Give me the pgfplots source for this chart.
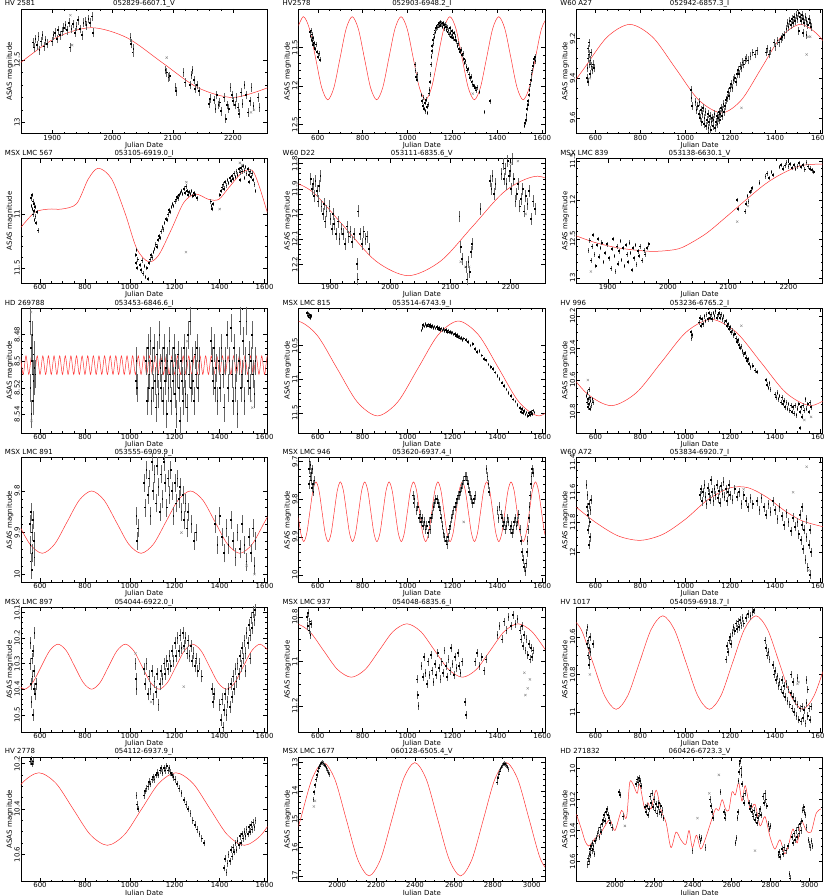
\documentclass[border=0pt]{standalone}
\usepackage{fontspec}
\setmainfont{DejaVu Sans}
\usepackage{pgfplots}
\pgfplotsset{compat=1.18}
\usepgfplotslibrary{groupplots}

% data point with its error bar, drawn as one light mark
\newdimen\ebl
\tikzset{ebl/.code={\pgfmathsetlength{\ebl}{#1}}}
\pgfdeclareplotmark{eb}{%
  \pgfpathmoveto{\pgfqpoint{0pt}{-\ebl}}\pgfpathlineto{\pgfqpoint{0pt}{\ebl}}\pgfusepathqstroke
  \pgfpathrectangle{\pgfqpoint{-0.85pt}{-0.85pt}}{\pgfqpoint{1.7pt}{1.7pt}}\pgfusepathqfill}

\pgfplotsset{
  lc/.style={only marks, mark=eb, mark options={draw=black!60, fill=black, line width=0.45pt, ebl=#1}},
  model/.style={no marks, smooth, red!80, line width=0.5pt},
  outl/.style={only marks, mark=x, mark size=1.6pt, black!45, line width=0.4pt},
  ja/.style={xmin=515, xmax=1612, xtick={600,800,...,1600}, minor x tick num=3},
  jb/.style={xmin=1848, xmax=2257, xtick={1900,2000,2100,2200}, minor x tick num=4},
  jc/.style={xmin=1802, xmax=3068, xtick={2000,2200,...,3000}, minor x tick num=3},
  % star name at the upper left, ASAS id centred above the frame
  pt/.style 2 args={title={\makebox[0pt]{\makebox[247pt][l]{\hspace*{-16pt}#1}}\makebox[0pt]{#2}}},
}

\begin{document}
\begin{tikzpicture}[font=\fontsize{7}{8}\selectfont]
\begin{groupplot}[
  group style={group size=3 by 6, horizontal sep=31.5pt, vertical sep=25pt},
  width=247pt, height=125pt, scale only axis,
  y dir=reverse,
  xlabel={Julian Date}, ylabel={ASAS magnitude},
  every axis title shift=0pt,
  title style={inner sep=0pt, yshift=1.2pt},
  tick align=inside, major tick length=4pt, minor tick length=2pt,
  tick style={black, line width=0.4pt},
  axis line style={line width=0.5pt},
  yticklabel style={rotate=90, anchor=south, inner sep=1pt},
  xticklabel style={inner sep=1pt},
  /pgf/number format/1000 sep={},
  /pgf/number format/assume math mode=true,
  scaled y ticks=false, scaled x ticks=false,
  xlabel style={inner sep=0.5pt},
  ylabel style={inner sep=0pt},
]

% ---------- row 1 ----------
\nextgroupplot[jb, ymin=12.09, ymax=13.09, ytick={12.5,13}, minor y tick num=4, pt={HV 2581}{052829-6607.1\_V}]
\addplot[model] coordinates {(1847.5,12.52) (1906.25,12.32) (1965,12.24) (2023.75,12.32) (2082.5,12.52) (2141.25,12.72) (2200,12.80) (2258.75,12.72)};
\addplot[lc=4.4pt] coordinates {
(1868,12.36) (1870,12.40) (1872,12.33) (1875,12.38) (1877,12.31) (1879,12.42) (1881,12.35) (1884,12.30) (1886,12.39) (1889,12.34) (1891,12.37)
(1900,12.35) (1902,12.30) (1905,12.28) (1908,12.33) (1910,12.26) (1913,12.30) (1916,12.27) (1919,12.24) (1922,12.22) (1925,12.26) (1928,12.20) (1930,12.40) (1932,12.25) (1935,12.21) (1938,12.28) (1940,12.23) (1943,12.18) (1946,12.25) (1949,12.30) (1952,12.20) (1955,12.19) (1957,12.22) (1960,12.17) (1963,12.20) (1966,12.15) (1968,12.28)
(2030,12.32) (2031,12.37) (2034,12.44) (2035,12.41)
(2088,12.58) (2090,12.60) (2093,12.64) (2095,12.63)
(2105,12.72) (2106,12.75) (2118,12.60) (2120,12.68) (2129,12.70) (2131,12.62) (2133,12.58) (2135,12.66) (2137,12.73) (2140,12.70) (2144,12.75)
(2160,12.85) (2162,12.81) (2169,12.82) (2171,12.89) (2173,12.78) (2176,12.86) (2178,12.84) (2180,12.91) (2185,12.80) (2188,12.97) (2190,12.86) (2193,12.89) (2196,12.72) (2198,12.78) (2200,12.83) (2203,12.86) (2206,12.80) (2208,12.88) (2210,12.93) (2213,12.76) (2216,12.85) (2219,12.70) (2222,12.78) (2225,12.92) (2228,12.83) (2231,12.72) (2234,12.87) (2242,12.80) (2244,12.88)};
\addplot[outl] coordinates {(1930,12.14) (1933,12.38) (2090,12.48) (2230,12.92) (2235,12.90)};

\nextgroupplot[ja, ymin=11.0, ymax=12.62, ytick={11.5,12,12.5}, minor y tick num=4, pt={HV2578}{052903-6948.2\_I}]
\addplot[model] coordinates {(508.8,11.258) (536,11.10) (563.2,11.258) (590.4,11.64) (617.6,12.022) (644.8,12.18) (671.9,12.022) (699.1,11.64) (726.3,11.258) (753.5,11.10) (780.7,11.258) (807.9,11.64) (835.1,12.022) (862.3,12.18) (889.4,12.022) (916.6,11.64) (943.8,11.258) (971,11.10) (998.2,11.258) (1025.4,11.64) (1052.6,12.022) (1079.8,12.18) (1106.9,12.022) (1134.1,11.64) (1161.3,11.258) (1188.5,11.10) (1215.7,11.258) (1242.9,11.64) (1270.1,12.022) (1297.3,12.18) (1324.4,12.022) (1351.6,11.64) (1378.8,11.258) (1406,11.10) (1433.2,11.258) (1460.4,11.64) (1487.6,12.022) (1514.8,12.18) (1541.9,12.022) (1569.1,11.64) (1596.3,11.258) (1623.5,11.10)};
\addplot[lc=2.3pt] coordinates {
(566,11.30) (568,11.35) (570,11.28) (572,11.40) (574,11.33) (576,11.42) (578,11.38) (580,11.47) (583,11.44) (586,11.50) (589,11.52) (592,11.46) (596,11.56) (600,11.62) (605,11.58) (610,11.66)
(1032,11.72) (1035,11.80) (1038,11.88) (1041,11.92) (1044,11.85)
(1062,12.12) (1065,12.20) (1068,12.26) (1071,12.15) (1074,12.30) (1077,12.22) (1080,12.33) (1083,12.18) (1086,12.27) (1089,12.35) (1092,12.24) (1095,12.10) (1098,12.05)
(1100,11.95) (1102,11.85) (1104,11.72) (1106,11.62) (1108,11.55) (1110,11.48) (1113,11.40) (1115,11.45) (1118,11.33) (1120,11.36) (1122,11.28) (1125,11.30) (1128,11.25)
(1131,11.22) (1134,11.24) (1137,11.20) (1140,11.18) (1143,11.22) (1146,11.17) (1149,11.20) (1152,11.19) (1155,11.23) (1158,11.18) (1161,11.21) (1164,11.25) (1167,11.20) (1170,11.23) (1173,11.27) (1176,11.24) (1179,11.30) (1182,11.28) (1185,11.33) (1188,11.25) (1191,11.31) (1194,11.36) (1197,11.29) (1200,11.34) (1203,11.38) (1206,11.31) (1210,11.40) (1214,11.36)
(1218,11.42) (1222,11.48) (1226,11.45) (1230,11.52) (1234,11.56) (1238,11.53) (1242,11.60) (1246,11.58) (1250,11.65) (1254,11.70) (1258,11.68) (1262,11.75) (1266,11.80) (1270,11.78) (1274,11.85) (1278,11.90) (1282,11.88) (1286,11.95) (1290,11.98) (1295,12.00) (1300,12.03) (1305,12.06) (1310,12.02) (1320,12.08) (1343,12.34) (1366,12.20)
(1521,12.52) (1524,12.48) (1527,12.44) (1530,12.38) (1532,12.30) (1535,12.25) (1537,12.20) (1540,12.12) (1543,12.05) (1546,11.98) (1549,11.92) (1552,11.85) (1555,11.80) (1558,11.74) (1561,11.70) (1564,11.65) (1567,11.62) (1570,11.68)};
\addplot[outl] coordinates {(1290,12.10)};

\nextgroupplot[ja, ymin=9.05, ymax=9.68, ytick={9.2,9.4,9.6}, minor y tick num=3, pt={W60 A27}{052942-6857.3\_I}]
\addplot[model] coordinates {(446,9.51) (548.5,9.3515) (650.75,9.193) (753,9.128) (855.25,9.193) (957.5,9.3515) (1059.75,9.51) (1162,9.575) (1249.75,9.51) (1337.5,9.3515) (1425.25,9.193) (1513,9.128) (1600.75,9.193) (1688.5,9.3515)};
\addplot[lc=4pt] coordinates {
(562,9.40) (564,9.35) (566,9.30) (568,9.25) (570,9.22) (572,9.28) (574,9.33) (576,9.38) (578,9.31) (580,9.27) (583,9.34) (586,9.36) (590,9.33) (594,9.35) (566,9.42)
(1025,9.46) (1027,9.50) (1029,9.54)
(1045,9.52) (1050,9.56) (1055,9.54) (1060,9.58) (1063,9.52) (1066,9.60) (1070,9.56) (1073,9.62) (1076,9.58) (1080,9.55) (1083,9.63) (1086,9.60) (1090,9.57) (1093,9.64) (1096,9.61) (1100,9.58) (1103,9.65) (1106,9.62) (1110,9.59) (1113,9.66) (1116,9.62) (1120,9.60) (1123,9.64) (1126,9.61) (1130,9.58) (1133,9.65) (1136,9.62) (1140,9.59) (1143,9.63) (1146,9.60) (1150,9.57) (1153,9.61) (1156,9.58) (1160,9.55) (1163,9.59) (1166,9.56) (1170,9.53) (1173,9.57) (1176,9.54) (1180,9.51)
(1185,9.50) (1190,9.47) (1195,9.49) (1200,9.45) (1205,9.43) (1210,9.45) (1215,9.41) (1220,9.40) (1225,9.42) (1230,9.38) (1235,9.36) (1240,9.38) (1245,9.34) (1250,9.35) (1255,9.32) (1260,9.33) (1265,9.31) (1270,9.30) (1280,9.31) (1290,9.29) (1300,9.27) (1310,9.28) (1320,9.26)
(1360,9.27) (1365,9.25) (1372,9.28) (1380,9.26)
(1395,9.22) (1402,9.24) (1410,9.21) (1418,9.22) (1425,9.20) (1432,9.19) (1440,9.18)
(1450,9.15) (1455,9.12) (1460,9.14) (1465,9.11) (1470,9.13) (1475,9.10) (1480,9.12) (1485,9.09) (1490,9.11) (1495,9.08) (1500,9.10) (1505,9.07) (1510,9.09) (1515,9.11) (1520,9.08) (1525,9.10) (1530,9.12) (1535,9.09) (1540,9.11) (1545,9.13) (1550,9.10) (1555,9.12) (1560,9.14) (1505,9.16) (1525,9.17) (1540,9.18)};
\addplot[outl] coordinates {(1250,9.55) (1540,9.28) (1547,9.19) (1556,9.19) (575,9.40)};

% ---------- row 2 ----------
\nextgroupplot[ja, ymin=10.48, ymax=11.64, ytick={11,11.5}, minor y tick num=4, pt={MSX LMC 567}{053105-6919.0\_I}]
\addplot[model] coordinates {(515,11.12) (577,10.98) (640,10.95) (696,10.95) (763,10.90) (815,10.67) (860,10.57) (919,10.67) (979,10.99) (1031,11.32) (1083,11.44) (1128,11.38) (1187,11.13) (1240,10.89) (1292,10.81) (1351,10.86) (1396,10.86) (1441,10.75) (1500,10.61) (1545,10.59) (1575,10.73) (1612,10.98)};
\addplot[lc=2.2pt] coordinates {
(560,10.85) (562,10.92) (564,10.82) (566,10.95) (568,10.88) (570,11.00) (572,10.90) (574,10.97) (576,11.05) (578,10.93) (580,11.02) (583,11.08) (586,10.98) (590,11.15)
(1026,11.38) (1028,11.45) (1030,11.33) (1032,11.50) (1035,11.42)
(1045,11.47) (1050,11.52) (1055,11.43) (1060,11.55) (1065,11.48) (1070,11.58) (1075,11.50) (1080,11.60) (1085,11.45) (1090,11.42) (1095,11.38) (1100,11.40)
(1105,11.35) (1110,11.32) (1115,11.28) (1120,11.30) (1125,11.24) (1130,11.20) (1135,11.22) (1140,11.16) (1145,11.12) (1150,11.14) (1155,11.08) (1160,11.04) (1165,11.05) (1170,11.00) (1175,10.96) (1180,10.98) (1185,10.93) (1190,10.90) (1195,10.92) (1200,10.88) (1205,10.86) (1210,10.84) (1215,10.85) (1220,10.82) (1225,10.80) (1230,10.78) (1235,10.81) (1240,10.76)
(1245,10.80) (1250,10.74) (1255,10.78) (1260,10.82) (1265,10.79) (1270,10.81) (1275,10.78) (1280,10.83) (1285,10.80) (1290,10.82) (1300,10.85)
(1360,10.88) (1363,10.92) (1366,10.95) (1370,10.90)
(1400,10.82) (1405,10.78) (1410,10.75) (1415,10.72) (1420,10.76) (1425,10.70) (1430,10.73) (1435,10.68) (1440,10.71) (1445,10.66) (1450,10.69) (1455,10.64) (1460,10.67) (1465,10.62) (1470,10.65) (1475,10.60) (1480,10.63) (1485,10.58) (1490,10.61) (1495,10.57) (1500,10.60) (1505,10.55) (1510,10.59) (1515,10.56) (1520,10.62) (1525,10.58) (1530,10.63) (1535,10.60) (1540,10.65) (1545,10.62) (1550,10.68) (1555,10.72) (1560,10.78) (1490,10.68) (1510,10.66) (1530,10.70)};
\addplot[outl] coordinates {(1250,11.35) (1400,10.95) (1252,10.70) (1490,10.52) (1500,10.54)};

\nextgroupplot[jb, ymin=11.78, ymax=12.275, ytick={11.8,11.9,12,12.1,12.2}, minor y tick num=4, pt={W60 D22}{053111-6835.6\_V}]
\addplot[model] coordinates {(1815,11.85) (1868.75,11.908) (1922.5,12.0475) (1976.25,12.187) (2030,12.245) (2083.75,12.187) (2137.5,12.0475) (2191.25,11.908) (2245,11.85) (2298.75,11.908)};
\addplot[lc=6pt] coordinates {
(1868,11.86) (1870,11.90) (1872,11.88) (1874,11.93) (1876,11.87) (1878,11.91) (1880,11.95) (1882,11.89) (1884,11.85) (1886,11.97) (1888,12.00) (1890,11.96) (1892,12.03) (1894,11.99) (1899,11.97) (1901,12.02) (1903,12.06) (1905,12.00) (1907,12.04) (1910,12.08) (1913,12.03) (1916,12.10) (1919,12.06) (1922,12.08) (1925,12.12) (1928,12.05) (1931,12.09) (1934,12.07) (1937,12.11) (1940,12.08) (1945,12.20) (1946,12.26) (1947,11.99) (1950,12.08) (1953,12.12) (1956,12.07) (1959,12.10) (1962,12.09) (1965,12.14)
(2115,12.01) (2117,12.13) (2119,12.18) (2126,12.21) (2128,12.26) (2130,12.19) (2132,12.23) (2134,12.15) (2136,12.12)
(2150,11.98) (2166,11.87) (2168,11.90) (2170,11.85) (2172,11.92) (2175,11.88) (2185,11.84) (2187,11.80) (2189,11.86) (2191,11.82) (2193,11.88) (2195,11.79) (2197,11.85) (2199,11.83) (2201,11.90) (2203,11.78) (2205,11.86) (2208,11.95) (2210,11.92) (2212,11.88) (2215,11.97) (2217,11.94) (2220,11.90) (2222,11.99) (2225,11.93) (2228,11.96) (2231,11.91) (2234,12.02) (2237,11.95) (2240,11.98)};
\addplot[outl] coordinates {(2117,12.19) (2125,12.21) (2131,12.21) (2212,11.79) (2200,11.80) (2225,12.00)};

\nextgroupplot[jb, ymin=11.47, ymax=13.07, ytick={11.5,12,12.5,13}, minor y tick num=4, pt={MSX LMC 839}{053138-6630.1\_V}]
\addplot[model] coordinates {(1847,12.46) (1880,12.55) (1920,12.62) (1969,12.66) (2000,12.65) (2024,12.61) (2062,12.44) (2095,12.23) (2128,12.01) (2161,11.80) (2188,11.67) (2221,11.56) (2258,11.54)};
\addplot[lc=2.3pt] coordinates {
(1868,12.65) (1870,12.52) (1872,12.78) (1874,12.60) (1876,12.45) (1878,12.70) (1880,12.85) (1882,12.58) (1884,12.50) (1886,12.73) (1888,12.62) (1890,12.55) (1893,12.80) (1896,12.68) (1899,12.57) (1902,12.75) (1905,12.88) (1907,12.63) (1909,12.50) (1911,12.72) (1913,12.92) (1915,12.60) (1917,12.82) (1919,12.66) (1921,12.53) (1923,12.77) (1925,12.62) (1928,12.85) (1930,12.58) (1932,12.70) (1934,12.80) (1936,12.55) (1938,12.68) (1940,12.90) (1942,12.62) (1944,12.75) (1946,12.58) (1948,12.83) (1950,12.66) (1952,12.72) (1954,12.60) (1957,12.78) (1960,12.65) (1962,12.70) (1965,12.62) (1968,12.57)
(2115,12.00) (2116,12.12) (2128,12.15) (2130,12.05) (2132,11.95) (2134,12.02) (2136,11.90) (2138,11.88) (2140,11.85) (2152,11.78) (2162,11.70) (2165,11.66) (2168,11.72) (2172,11.64) (2175,11.68)
(2185,11.58) (2188,11.55) (2191,11.60) (2194,11.56) (2197,11.52) (2200,11.57) (2203,11.54) (2206,11.59) (2209,11.55) (2212,11.60) (2215,11.57) (2218,11.53) (2221,11.58) (2224,11.55) (2227,11.61) (2230,11.52) (2233,11.57) (2236,11.60) (2239,11.62) (2242,11.64)};
\addplot[outl] coordinates {(2115,12.28) (2133,12.08) (1872,12.92)};

% ---------- row 3 ----------
\nextgroupplot[ja, ymin=8.46, ymax=8.554, ytick={8.48,8.5,8.52,8.54}, minor y tick num=3, pt={HD 269788}{053453-6846.6\_I}]
\addplot[model] coordinates {(512.5,8.496) (525,8.51) (537.5,8.496) (550,8.51) (562.5,8.496) (575,8.51) (587.5,8.496) (600,8.51) (612.5,8.496) (625,8.51) (637.5,8.496) (650,8.51) (662.5,8.496) (675,8.51) (687.5,8.496) (700,8.51) (712.5,8.496) (725,8.51) (737.5,8.496) (750,8.51) (762.5,8.496) (775,8.51) (787.5,8.496) (800,8.51) (812.5,8.496) (825,8.51) (837.5,8.496) (850,8.51) (862.5,8.496) (875,8.51) (887.5,8.496) (900,8.51) (912.5,8.496) (925,8.51) (937.5,8.496) (950,8.51) (962.5,8.496) (975,8.51) (987.5,8.496) (1000,8.51) (1012.5,8.496) (1025,8.51) (1037.5,8.496) (1050,8.51) (1062.5,8.496) (1075,8.51) (1087.5,8.496) (1100,8.51) (1112.5,8.496) (1125,8.51) (1137.5,8.496) (1150,8.51) (1162.5,8.496) (1175,8.51) (1187.5,8.496) (1200,8.51) (1212.5,8.496) (1225,8.51) (1237.5,8.496) (1250,8.51) (1262.5,8.496) (1275,8.51) (1287.5,8.496) (1300,8.51) (1312.5,8.496) (1325,8.51) (1337.5,8.496) (1350,8.51) (1362.5,8.496) (1375,8.51) (1387.5,8.496) (1400,8.51) (1412.5,8.496) (1425,8.51) (1437.5,8.496) (1450,8.51) (1462.5,8.496) (1475,8.51) (1487.5,8.496) (1500,8.51) (1512.5,8.496) (1525,8.51) (1537.5,8.496) (1550,8.51) (1562.5,8.496) (1575,8.51) (1587.5,8.496) (1600,8.51) (1612.5,8.496) (1625,8.51)};
\addplot[lc=14pt] coordinates {
(556,8.47) (558,8.52) (560,8.49) (562,8.54) (564,8.50) (566,8.48) (568,8.53) (570,8.51) (572,8.495) (574,8.515) (576,8.505) (580,8.51)
(1027,8.515) (1030,8.50) (1033,8.52)
(1072,8.50) (1076,8.53) (1080,8.49) (1084,8.52) (1088,8.51) (1092,8.485) (1096,8.53) (1100,8.50) (1104,8.52) (1108,8.49) (1112,8.515) (1116,8.535) (1120,8.495) (1124,8.51) (1128,8.525) (1132,8.48) (1136,8.505) (1140,8.52) (1144,8.50) (1148,8.53) (1152,8.49) (1156,8.515) (1160,8.505) (1164,8.54) (1168,8.50) (1172,8.52) (1176,8.485) (1180,8.51) (1184,8.53) (1188,8.50) (1192,8.515) (1196,8.49) (1200,8.525) (1204,8.505) (1208,8.54) (1212,8.51) (1216,8.495) (1220,8.52) (1224,8.545) (1228,8.50) (1232,8.515) (1236,8.53) (1240,8.49) (1244,8.51) (1248,8.525) (1252,8.50) (1256,8.535) (1260,8.48) (1264,8.51) (1268,8.47) (1272,8.52) (1276,8.50) (1280,8.515) (1285,8.53) (1290,8.495) (1295,8.51) (1300,8.49) (1305,8.52) (1310,8.50)
(1362,8.485) (1366,8.50) (1370,8.515) (1375,8.49) (1380,8.52) (1385,8.505) (1390,8.53) (1396,8.50) (1402,8.52) (1408,8.49) (1414,8.51) (1420,8.535) (1426,8.50) (1432,8.48) (1438,8.52) (1444,8.50) (1450,8.475) (1455,8.51) (1460,8.53) (1465,8.49) (1470,8.52) (1475,8.505) (1480,8.54) (1485,8.50) (1490,8.47) (1495,8.52) (1500,8.51) (1505,8.485) (1510,8.53) (1515,8.50) (1520,8.47) (1525,8.515) (1530,8.495) (1535,8.52) (1540,8.50) (1545,8.48) (1550,8.51) (1555,8.525) (1560,8.50)};
\addplot[outl] coordinates {(560,8.463) (562,8.545) (1255,8.485) (1540,8.53) (1545,8.535)};

\nextgroupplot[ja, ymin=9.95, ymax=11.79, ytick={10.5,11,11.5}, minor y tick num=4, pt={MSX LMC 815}{053514-6743.9\_I}]
\addplot[model] coordinates {(416,10.345) (506,10.14) (596,10.345) (686,10.84) (776,11.335) (866,11.54) (956,11.335) (1046,10.84) (1136,10.345) (1226,10.14) (1316,10.345) (1406,10.84) (1496,11.335) (1586,11.54) (1676,11.335)};
\addplot[lc=1.8pt] coordinates {
(552,10.02) (555,10.06) (558,10.03) (561,10.08) (564,10.05) (567,10.10) (570,10.07)
(1062,10.28) (1066,10.24) (1070,10.20) (1075,10.22) (1080,10.18) (1085,10.21) (1090,10.19) (1095,10.22) (1100,10.20) (1105,10.23) (1110,10.21) (1115,10.24) (1120,10.22) (1125,10.25) (1130,10.23) (1135,10.26) (1140,10.24) (1145,10.27) (1150,10.25) (1155,10.28) (1160,10.26) (1165,10.29) (1170,10.27) (1175,10.30) (1180,10.28) (1185,10.31) (1190,10.30) (1195,10.32) (1200,10.31) (1205,10.34) (1210,10.33) (1215,10.36) (1220,10.35) (1225,10.38) (1230,10.37) (1235,10.40) (1240,10.39) (1245,10.42)
(1250,10.40) (1260,10.42) (1270,10.45) (1280,10.50) (1290,10.48) (1300,10.55) (1310,10.60) (1320,10.58) (1330,10.65) (1340,10.70) (1350,10.72) (1360,10.78) (1370,10.82) (1380,10.85) (1390,10.90) (1400,10.95) (1410,11.00) (1420,11.05) (1430,11.10) (1440,11.15) (1450,11.20) (1460,11.25) (1470,11.30) (1480,11.33) (1490,11.38) (1500,11.42)
(1505,11.48) (1510,11.44) (1515,11.50) (1520,11.47) (1525,11.52) (1530,11.49) (1535,11.54) (1540,11.50) (1545,11.53) (1550,11.48) (1555,11.51) (1560,11.46) (1565,11.49)};

\nextgroupplot[ja, ymin=10.15, ymax=10.93, ytick={10.2,10.4,10.6,10.8}, minor y tick num=3, pt={HV 996}{053236-6765.2\_I}]
\addplot[model] coordinates {(447.5,10.49) (558.75,10.68) (670,10.76) (781.25,10.68) (892.5,10.49) (1003.75,10.30) (1115,10.22) (1226.25,10.30) (1337.5,10.49) (1448.75,10.68) (1560,10.76) (1671.25,10.68)};
\addplot[lc=2.4pt] coordinates {
(560,10.70) (562,10.74) (564,10.68) (566,10.77) (568,10.72) (570,10.66) (572,10.75) (574,10.71) (576,10.78) (578,10.73) (582,10.76) (586,10.72) (590,10.74)
(1025,10.30) (1027,10.34) (1029,10.32)
(1062,10.24) (1066,10.21) (1070,10.26) (1075,10.22) (1080,10.25) (1085,10.20) (1090,10.23) (1095,10.19) (1100,10.22) (1105,10.18) (1110,10.21) (1115,10.19) (1120,10.22) (1125,10.18) (1130,10.20) (1135,10.17) (1140,10.21) (1145,10.19) (1150,10.18) (1155,10.21) (1160,10.19) (1165,10.22) (1170,10.20) (1175,10.24)
(1180,10.23) (1185,10.26) (1190,10.25) (1195,10.28) (1200,10.27) (1205,10.30) (1210,10.29) (1215,10.32) (1220,10.31) (1225,10.34) (1230,10.36) (1235,10.35) (1240,10.38) (1245,10.40) (1250,10.39) (1255,10.42) (1260,10.44) (1265,10.43) (1270,10.46) (1275,10.48) (1280,10.47) (1285,10.50) (1290,10.52) (1300,10.51) (1310,10.54) (1320,10.55)
(1360,10.60) (1365,10.63) (1370,10.65) (1375,10.62) (1380,10.66)
(1400,10.69) (1405,10.71) (1410,10.68) (1415,10.72) (1420,10.70) (1425,10.74) (1430,10.71) (1435,10.75) (1440,10.73) (1445,10.77) (1450,10.74) (1455,10.78) (1460,10.75) (1465,10.79) (1470,10.76) (1475,10.80) (1480,10.77) (1485,10.81) (1490,10.76) (1495,10.82) (1500,10.78) (1505,10.75) (1510,10.80) (1515,10.77) (1520,10.83) (1525,10.76) (1530,10.79) (1535,10.72) (1540,10.78) (1545,10.75) (1550,10.80) (1555,10.74) (1560,10.77) (1510,10.90)};
\addplot[outl] coordinates {(566,10.60) (1250,10.26) (1530,10.85) (1560,10.83)};

% ---------- row 4 ----------
\nextgroupplot[ja, ymin=9.72, ymax=10.02, ytick={9.8,9.9,10}, minor y tick num=4, pt={MSX LMC 891}{053555-6909.9\_I}]
\addplot[model] coordinates {(500,9.875) (555,9.928) (610,9.95) (665,9.928) (720,9.875) (775,9.822) (830,9.80) (885,9.822) (940,9.875) (995,9.928) (1050,9.95) (1105,9.928) (1160,9.875) (1215,9.822) (1270,9.80) (1325,9.822) (1380,9.875) (1435,9.928) (1490,9.95) (1545,9.928) (1600,9.875) (1655,9.822)};
\addplot[lc=9pt] coordinates {
(555,9.88) (557,9.93) (559,9.97) (561,9.85) (563,9.99) (565,9.90) (567,9.95) (569,9.87) (572,9.92) (575,9.96)
(1030,9.86) (1033,9.92) (1036,9.89)
(1062,9.78) (1068,9.84) (1074,9.75) (1080,9.81) (1086,9.77) (1092,9.86) (1098,9.73) (1104,9.80) (1110,9.76) (1116,9.83) (1122,9.74) (1128,9.79) (1134,9.85) (1140,9.76) (1146,9.82) (1152,9.73) (1158,9.78) (1164,9.84) (1170,9.77) (1176,9.81) (1182,9.75) (1188,9.80) (1194,9.86) (1200,9.78) (1206,9.83) (1212,9.77) (1218,9.82) (1224,9.79) (1230,9.85) (1236,9.81) (1242,9.87) (1248,9.83) (1254,9.89) (1260,9.85)
(1275,9.88) (1285,9.92) (1295,9.90)
(1380,9.88) (1390,9.93) (1400,9.86) (1410,9.91) (1420,9.95) (1430,9.89) (1440,9.93) (1450,9.87) (1460,9.92) (1470,9.96) (1480,9.90) (1490,9.94) (1500,9.88) (1510,9.93) (1520,9.97) (1530,9.91) (1540,9.95) (1550,9.89) (1555,9.98) (1560,9.92)};
\addplot[outl] coordinates {(1230,9.90) (1520,9.98) (1555,10.00)};

\nextgroupplot[ja, ymin=9.69, ymax=10.02, ytick={9.7,9.8,9.9,10}, minor y tick num=4, pt={MSX LMC 946}{053620-6937.4\_I}]
\addplot[model] coordinates {(510.55,9.833) (524.1,9.889) (537.7,9.912) (551.3,9.889) (564.85,9.833) (578.4,9.777) (592,9.754) (605.6,9.777) (619.15,9.833) (632.7,9.889) (646.3,9.912) (659.9,9.889) (673.45,9.833) (687,9.777) (700.6,9.754) (714.2,9.777) (727.75,9.833) (741.3,9.889) (754.9,9.912) (768.5,9.889) (782.05,9.833) (795.6,9.777) (809.2,9.754) (822.8,9.777) (836.35,9.833) (849.9,9.889) (863.5,9.912) (877.1,9.889) (890.65,9.833) (904.2,9.777) (917.8,9.754) (931.4,9.777) (944.95,9.833) (958.5,9.889) (972.1,9.912) (985.7,9.889) (999.25,9.833) (1012.8,9.777) (1026.4,9.754) (1040,9.777) (1053.55,9.833) (1067.1,9.889) (1080.7,9.912) (1094.3,9.889) (1107.85,9.833) (1121.4,9.777) (1135,9.754) (1148.6,9.777) (1162.15,9.833) (1175.7,9.889) (1189.3,9.912) (1202.9,9.889) (1216.45,9.833) (1230,9.777) (1243.6,9.754) (1257.2,9.777) (1270.75,9.833) (1284.3,9.889) (1297.9,9.912) (1311.5,9.889) (1325.05,9.833) (1338.6,9.777) (1352.2,9.754) (1365.8,9.777) (1379.35,9.833) (1392.9,9.889) (1406.5,9.912) (1420.1,9.889) (1433.65,9.833) (1447.2,9.777) (1460.8,9.754) (1474.4,9.777) (1487.95,9.833) (1501.5,9.889) (1515.1,9.912) (1528.7,9.889) (1542.25,9.833) (1555.8,9.777) (1569.4,9.754) (1583,9.777) (1596.55,9.833) (1610.1,9.889) (1623.7,9.912)};
\addplot[lc=4.5pt] coordinates {
(560,9.76) (562,9.72) (564,9.70) (566,9.74) (568,9.71) (570,9.75) (572,9.73) (574,9.77) (576,9.72) (578,9.76) (581,9.78) (585,9.75)
(1025,9.79) (1028,9.81) (1031,9.80)
(1040,9.83) (1045,9.82) (1050,9.85) (1055,9.84) (1060,9.86) (1065,9.85) (1070,9.87) (1075,9.86) (1080,9.88) (1085,9.87) (1090,9.89) (1095,9.86) (1100,9.88) (1105,9.85) (1110,9.84) (1115,9.82) (1120,9.81) (1125,9.80) (1130,9.80) (1135,9.81) (1140,9.82) (1145,9.83) (1150,9.85) (1155,9.87) (1160,9.89) (1165,9.90) (1170,9.91) (1175,9.92) (1180,9.90) (1185,9.88) (1190,9.87) (1195,9.85) (1200,9.84) (1205,9.83) (1210,9.82) (1215,9.81) (1220,9.80) (1225,9.79) (1230,9.79) (1235,9.78) (1240,9.77) (1245,9.76) (1250,9.75) (1255,9.74) (1260,9.74) (1265,9.75) (1270,9.76) (1275,9.78) (1280,9.79) (1285,9.80) (1290,9.81) (1295,9.80) (1300,9.79)
(1352,9.72) (1356,9.74) (1360,9.76) (1364,9.78)
(1400,9.83) (1405,9.85) (1410,9.82) (1415,9.84) (1420,9.85) (1425,9.87) (1430,9.86) (1435,9.88) (1440,9.87) (1445,9.85) (1450,9.86) (1455,9.88) (1460,9.87) (1465,9.89) (1470,9.88) (1475,9.86) (1480,9.85) (1485,9.87) (1490,9.86) (1495,9.84) (1500,9.88) (1505,9.91) (1510,9.94) (1515,9.96) (1520,9.98) (1525,9.99) (1528,9.97) (1531,9.94) (1534,9.91) (1537,9.88) (1540,9.85) (1543,9.82) (1546,9.79) (1549,9.76) (1552,9.74) (1555,9.72) (1558,9.73)};
\addplot[outl] coordinates {(1250,9.86)};

\nextgroupplot[ja, ymin=11.37, ymax=12.2, ytick={11.4,11.6,11.8,12}, minor y tick num=3, pt={W60 A72}{053834-6920.7\_I}]
\addplot[model] coordinates {(515,11.70) (600,11.80) (700,11.89) (800,11.92) (900,11.88) (1000,11.78) (1100,11.65) (1200,11.57) (1280,11.57) (1360,11.63) (1440,11.72) (1520,11.79) (1615,11.83)};
\addplot[lc=4.5pt] coordinates {
(560,11.55) (562,11.70) (564,11.62) (566,11.85) (568,11.75) (570,11.95) (572,11.68) (574,11.80) (576,11.90) (578,11.72) (580,11.65)
(1065,11.62) (1070,11.58) (1075,11.66) (1080,11.60) (1085,11.55) (1090,11.63) (1095,11.68) (1100,11.57) (1105,11.61) (1110,11.65) (1115,11.52) (1120,11.60) (1125,11.66) (1130,11.58) (1135,11.62) (1140,11.55) (1145,11.64) (1150,11.59) (1155,11.67) (1160,11.56) (1165,11.61) (1170,11.53) (1175,11.63) (1180,11.58) (1185,11.66) (1190,11.60) (1195,11.55) (1200,11.62) (1210,11.65) (1220,11.58) (1230,11.63) (1240,11.60) (1250,11.68) (1260,11.62) (1270,11.66) (1280,11.70) (1290,11.64) (1300,11.68)
(1320,11.66) (1330,11.72) (1340,11.64) (1350,11.70) (1360,11.75) (1370,11.68) (1380,11.73) (1390,11.66)
(1400,11.72) (1410,11.78) (1420,11.70) (1430,11.76) (1440,11.82) (1450,11.74) (1460,11.80) (1470,11.86) (1480,11.77) (1490,11.83)
(1500,11.80) (1505,11.88) (1510,11.75) (1515,11.92) (1520,11.82) (1525,11.98) (1530,11.85) (1535,12.05) (1540,11.90) (1545,12.10) (1550,11.95) (1555,12.15) (1560,12.00) (1520,11.70) (1540,11.78) (1555,11.85)};
\addplot[outl] coordinates {(1540,11.43) (1550,12.12) (1260,11.58) (1480,11.60)};

% ---------- row 5 ----------
\nextgroupplot[ja, ymin=10.08, ymax=10.567, ytick={10.1,10.2,10.3,10.4,10.5}, minor y tick num=4, pt={MSX LMC 897}{054044-6922.0\_I}]
\addplot[model] coordinates {(492.5,10.374) (530,10.400) (567.5,10.374) (605,10.312) (642.5,10.250) (680,10.224) (717.5,10.250) (755,10.312) (792.5,10.374) (830,10.400) (867.5,10.374) (905,10.312) (942.5,10.250) (980,10.224) (1017.5,10.250) (1055,10.312) (1092.5,10.374) (1130,10.400) (1167.5,10.374) (1205,10.312) (1242.5,10.250) (1280,10.224) (1317.5,10.250) (1355,10.312) (1392.5,10.374) (1430,10.400) (1467.5,10.374) (1505,10.312) (1542.5,10.250) (1580,10.224) (1617.5,10.250)};
\addplot[lc=6pt] coordinates {
(556,10.30) (558,10.22) (560,10.38) (562,10.45) (564,10.28) (566,10.35) (568,10.50) (570,10.25) (572,10.40) (574,10.33) (576,10.18) (578,10.42) (582,10.38)
(1025,10.30) (1027,10.36) (1029,10.40)
(1062,10.32) (1068,10.38) (1074,10.30) (1080,10.42) (1086,10.35) (1092,10.40) (1098,10.33) (1104,10.44) (1110,10.37) (1116,10.41) (1122,10.34) (1128,10.46) (1134,10.38) (1140,10.33) (1146,10.36) (1152,10.30) (1158,10.34) (1164,10.29) (1170,10.32) (1176,10.27) (1182,10.31) (1188,10.25) (1194,10.29) (1200,10.22) (1206,10.27) (1212,10.20) (1218,10.25) (1224,10.19) (1230,10.24) (1236,10.18) (1242,10.23) (1248,10.20) (1254,10.26) (1260,10.21) (1266,10.27) (1272,10.23) (1278,10.29) (1284,10.26) (1290,10.31) (1296,10.28) (1302,10.33) (1310,10.30) (1320,10.35)
(1365,10.40) (1370,10.45) (1375,10.42)
(1400,10.46) (1405,10.52) (1410,10.44) (1415,10.55) (1420,10.48) (1425,10.42) (1430,10.50) (1435,10.45) (1440,10.40) (1445,10.47) (1450,10.38) (1455,10.43) (1460,10.35) (1465,10.40) (1470,10.32) (1475,10.37) (1480,10.30) (1485,10.34) (1490,10.27) (1495,10.31) (1500,10.24) (1505,10.28) (1510,10.21) (1515,10.26) (1520,10.18) (1525,10.22) (1530,10.15) (1535,10.19) (1540,10.12) (1545,10.16) (1550,10.10) (1555,10.13) (1558,10.09) (1515,10.33) (1535,10.28)};
\addplot[outl] coordinates {(1025,10.26) (1095,10.45) (1240,10.39) (1240,10.24)};

\nextgroupplot[ja, ymin=10.756, ymax=11.316, ytick={10.8,11,11.2}, minor y tick num=3, pt={MSX LMC 937}{054048-6835.6\_I}]
\addplot[model] coordinates {(440.1,10.865) (502,10.83) (563.9,10.865) (625.75,10.95) (687.6,11.035) (749.5,11.07) (811.4,11.035) (873.25,10.95) (935.1,10.865) (997,10.83) (1058.9,10.865) (1120.75,10.95) (1182.6,11.035) (1244.5,11.07) (1306.4,11.035) (1368.25,10.95) (1430.1,10.865) (1492,10.83) (1553.9,10.865) (1615.75,10.95)};
\addplot[lc=4pt] coordinates {
(552,10.80) (555,10.84) (558,10.78) (561,10.86) (564,10.82) (567,10.88) (570,10.83)
(1042,11.08) (1045,11.15) (1048,11.20)
(1062,11.02) (1068,11.07) (1074,10.98) (1080,11.05) (1086,11.10) (1092,11.00) (1098,11.06) (1104,10.97) (1110,11.04) (1116,11.09) (1122,11.01) (1128,11.06) (1134,10.96) (1140,11.03) (1146,11.08) (1152,11.00) (1158,11.05) (1164,10.95) (1170,11.02) (1176,11.07) (1182,10.99) (1188,11.04) (1194,10.94) (1200,11.01) (1206,11.06) (1212,10.98) (1218,11.03) (1224,10.96) (1230,11.02) (1236,11.05) (1242,11.00)
(1255,11.18) (1260,11.24)
(1300,11.00) (1310,10.96) (1320,11.02) (1330,10.98) (1340,11.04) (1350,10.99)
(1400,10.88) (1410,10.84) (1420,10.90) (1430,10.82) (1440,10.86) (1450,10.80) (1460,10.84) (1470,10.79) (1480,10.83) (1490,10.81) (1500,10.86) (1505,10.90) (1510,10.84) (1515,10.93) (1520,10.88) (1525,10.95) (1530,10.90) (1535,10.97) (1540,10.92) (1545,10.99) (1550,10.94) (1555,10.98) (1560,10.95)};
\addplot[outl] coordinates {(1520,11.05) (1535,11.12) (1545,11.08) (1525,11.15)};

\nextgroupplot[ja, ymin=10.444, ymax=11.105, ytick={10.6,10.8,11}, minor y tick num=3, pt={HV 1017}{054059-6918.7\_I}]
\addplot[model] coordinates {(484.5,10.489) (536.4,10.562) (588.25,10.737) (640.1,10.912) (692,10.985) (743.9,10.912) (795.75,10.737) (847.6,10.562) (899.5,10.489) (951.4,10.562) (1003.25,10.737) (1055.1,10.912) (1107,10.985) (1158.9,10.912) (1210.75,10.737) (1262.6,10.562) (1314.5,10.489) (1366.4,10.562) (1418.25,10.737) (1470.1,10.912) (1522,10.985) (1573.9,10.912) (1625.75,10.737)};
\addplot[lc=3.8pt] coordinates {
(560,10.58) (562,10.64) (564,10.55) (566,10.70) (568,10.62) (570,10.75) (572,10.66) (574,10.72) (576,10.60) (578,10.68) (590,10.64)
(1180,10.72) (1185,10.65) (1190,10.68) (1195,10.62) (1200,10.60) (1205,10.64) (1210,10.58) (1215,10.55) (1220,10.57) (1225,10.53) (1230,10.56) (1235,10.52) (1240,10.55) (1245,10.51) (1250,10.54) (1255,10.50) (1260,10.53) (1270,10.50) (1280,10.48) (1290,10.49) (1300,10.47) (1305,10.46)
(1355,10.62) (1360,10.66) (1365,10.70) (1370,10.68) (1375,10.72)
(1390,10.75) (1395,10.80) (1400,10.78) (1405,10.83) (1410,10.81) (1415,10.86) (1420,10.84) (1425,10.88) (1430,10.83) (1435,10.90) (1440,10.86) (1445,10.92) (1450,10.85) (1455,10.94) (1460,10.88) (1465,10.96) (1470,10.90) (1475,10.98) (1480,10.92) (1485,11.00) (1490,10.94) (1495,11.02) (1500,10.96) (1505,11.04) (1510,10.98) (1515,11.05) (1520,10.97) (1525,11.03) (1530,10.99) (1535,11.06) (1540,10.95) (1545,11.02) (1550,10.98) (1555,11.04) (1560,10.97) (1470,10.80) (1480,10.84) (1500,10.82) (1540,10.83) (1545,10.88)};
\addplot[outl] coordinates {(1500,10.85) (1505,10.84) (575,10.80)};

% ---------- row 6 ----------
\nextgroupplot[ja, ymin=10.17, ymax=10.72, ytick={10.2,10.4,10.6}, minor y tick num=3, pt={HV 2778}{054112-6937.9\_I}]
\addplot[model] coordinates {(442.5,10.40) (518.75,10.287) (595,10.24) (671.25,10.287) (747.5,10.40) (823.75,10.513) (900,10.56) (976.25,10.513) (1052.5,10.40) (1128.75,10.287) (1205,10.24) (1281.25,10.287) (1357.5,10.40) (1433.75,10.513) (1510,10.56) (1586.25,10.513) (1662.5,10.40)};
\addplot[lc=3.4pt] coordinates {
(556,10.19) (560,10.18) (564,10.20) (568,10.19)
(1030,10.34) (1033,10.38) (1036,10.40)
(1062,10.34) (1068,10.32) (1074,10.31) (1080,10.30) (1086,10.28) (1092,10.29) (1098,10.27) (1104,10.26) (1110,10.27) (1116,10.25) (1122,10.24) (1128,10.25) (1134,10.23) (1140,10.22) (1146,10.24) (1152,10.22) (1158,10.23) (1164,10.21) (1170,10.23) (1176,10.22) (1182,10.24) (1188,10.25) (1194,10.26) (1200,10.27)
(1210,10.29) (1220,10.31) (1230,10.33) (1240,10.36) (1250,10.38) (1260,10.40) (1270,10.42) (1280,10.45) (1290,10.47) (1300,10.49) (1310,10.51) (1320,10.53) (1330,10.55)
(1420,10.66) (1425,10.62) (1430,10.68) (1435,10.64) (1440,10.60) (1445,10.63) (1450,10.58) (1455,10.61) (1460,10.57) (1465,10.59) (1470,10.55) (1475,10.58) (1480,10.54) (1485,10.56) (1490,10.52) (1495,10.55) (1500,10.51) (1505,10.53) (1510,10.50) (1515,10.52) (1520,10.49) (1525,10.51) (1530,10.48) (1535,10.50) (1540,10.47) (1545,10.49) (1550,10.46) (1555,10.48) (1560,10.45)};

\nextgroupplot[jc, ymin=12.8, ymax=17.2, ytick={13,14,15,16,17}, minor y tick num=4, pt={MSX LMC 1677}{060128-6505.4\_V}]
\addplot[model] coordinates {(1752.75,16.414) (1811.5,15.0) (1870.25,13.586) (1929,13.0) (1987.75,13.586) (2046.5,15.0) (2105.25,16.414) (2164,17.0) (2222.75,16.414) (2281.5,15.0) (2340.25,13.586) (2399,13.0) (2457.75,13.586) (2516.5,15.0) (2575.25,16.414) (2634,17.0) (2692.75,16.414) (2751.5,15.0) (2810.25,13.586) (2869,13.0) (2927.75,13.586) (2986.5,15.0) (3045.25,16.414) (3104,17.0)};
\addplot[lc=2.3pt] coordinates {
(1878,14.30) (1882,14.05) (1886,13.80) (1890,13.60) (1895,13.45) (1900,13.30) (1905,13.20) (1910,13.12) (1915,13.05) (1920,13.02) (1925,13.00) (1930,13.03) (1935,13.08) (1940,13.12) (1945,13.20) (1950,13.28) (1955,13.36) (1960,13.42)
(2820,13.70) (2825,13.55) (2830,13.42) (2835,13.32) (2840,13.22) (2845,13.15) (2850,13.10) (2855,13.05) (2860,13.04) (2865,13.06) (2870,13.10) (2875,13.16) (2880,13.24)};
\addplot[outl] coordinates {(1880,14.55) (1886,14.35)};

\nextgroupplot[jc, ymin=9.924, ymax=10.73, ytick={10,10.2,10.4,10.6}, minor y tick num=3, pt={HD 271832}{060426-6723.3\_V}]
\addplot[model] coordinates {(1802,10.295) (1830,10.40) (1847,10.47) (1864,10.50) (1881,10.48) (1898,10.45) (1920,10.43) (1949,10.37) (1975,10.33) (2000,10.40) (2034,10.27) (2059,10.32) (2076,10.09) (2093,10.10) (2114,10.16) (2127,10.10) (2153,10.26) (2169,10.22) (2186,10.26) (2212,10.14) (2237,10.27) (2263,10.35) (2288,10.51) (2314,10.41) (2339,10.46) (2364,10.49) (2381,10.40) (2398,10.51) (2419,10.43) (2441,10.52) (2466,10.45) (2492,10.35) (2517,10.26) (2534,10.27) (2551,10.20) (2568,10.26) (2585,10.27) (2602,10.15) (2619,10.17) (2636,10.09) (2653,10.21) (2670,10.11) (2695,10.26) (2720,10.23) (2746,10.37) (2771,10.31) (2797,10.44) (2822,10.52) (2848,10.46) (2873,10.55) (2893,10.49) (2915,10.39) (2937,10.48) (2958,10.34) (2983,10.40) (3008,10.41) (3034,10.29) (3059,10.26)};
\addplot[lc=3.1pt] coordinates {
(1860,10.62) (1863,10.58) (1866,10.60) (1869,10.55) (1872,10.52) (1875,10.56) (1878,10.50) (1881,10.53) (1884,10.48) (1887,10.52) (1890,10.50) (1895,10.55) (1898,10.47)
(1905,10.45) (1910,10.42) (1915,10.40) (1920,10.44) (1925,10.38) (1930,10.41) (1935,10.36) (1940,10.33) (1945,10.30) (1950,10.34) (1955,10.28) (1960,10.26) (1965,10.30) (1970,10.32) (1975,10.35) (1985,10.38)
(2020,10.15) (2025,10.17) (2042,10.31)
(2110,10.10) (2115,10.07) (2120,10.09) (2125,10.06) (2130,10.08) (2135,10.11)
(2155,10.25) (2160,10.28) (2165,10.24) (2170,10.30) (2175,10.26)
(2180,10.18) (2185,10.22) (2190,10.16) (2195,10.25) (2200,10.20) (2205,10.27) (2210,10.23) (2215,10.29) (2220,10.25) (2225,10.22) (2230,10.28) (2235,10.24) (2240,10.30) (2245,10.27) (2250,10.32)
(2398,10.53) (2435,10.44) (2440,10.47) (2445,10.45) (2466,10.51)
(2490,10.20) (2495,10.24) (2500,10.28) (2505,10.32) (2542,10.15) (2560,10.28) (2565,10.32) (2568,10.30)
(2620,10.48) (2625,10.45) (2630,10.32) (2634,10.28)
(2635,10.08) (2638,10.02) (2641,9.97) (2644,9.95) (2647,10.00) (2650,10.04) (2653,10.10)
(2660,10.18) (2665,10.22) (2670,10.16)
(2690,10.22) (2695,10.26) (2700,10.24) (2705,10.28) (2710,10.31) (2715,10.27) (2720,10.33) (2725,10.30) (2730,10.35) (2735,10.32) (2740,10.29) (2745,10.26) (2750,10.30)
(2760,10.18) (2765,10.22) (2770,10.16) (2775,10.20) (2780,10.24)
(2790,10.36) (2795,10.39) (2800,10.37)
(2840,10.56) (2845,10.54) (2850,10.57) (2860,10.52) (2865,10.55) (2870,10.51) (2880,10.53) (2890,10.50)
(2898,10.68) (2899,10.71)
(2910,10.44) (2915,10.48) (2920,10.42) (2925,10.46) (2930,10.40) (2935,10.44) (2940,10.38) (2945,10.42) (2950,10.36) (2955,10.40) (2960,10.34) (2965,10.27) (2970,10.25) (2975,10.28) (2980,10.30) (2985,10.38)
(2995,10.46) (3000,10.49) (3005,10.51) (3010,10.47) (3015,10.50)};
\addplot[outl] coordinates {(2051,10.37) (2424,10.32) (2485,10.16) (2534,10.04) (2720,10.53)};
\end{groupplot}
\pgfresetboundingbox
\path[use as bounding box] ([xshift=-21pt,yshift=9pt]group c1r1.north west) rectangle ([xshift=0.5pt,yshift=-13.5pt]group c3r6.south east);
\end{tikzpicture}
\end{document}
